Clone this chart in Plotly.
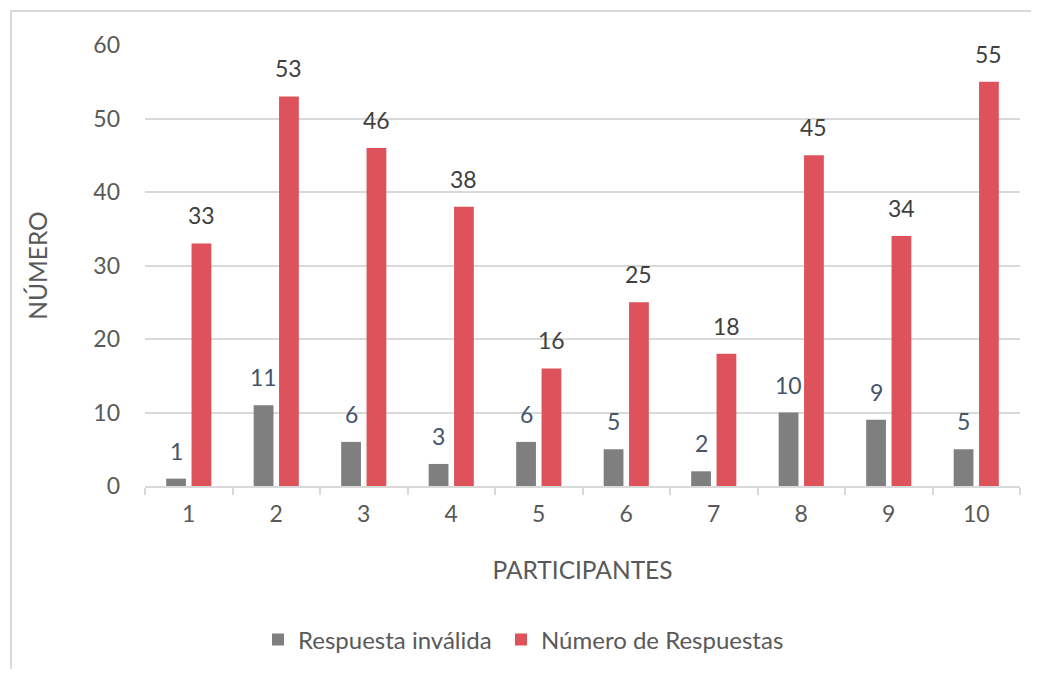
import plotly.graph_objects as go

participantes = ["1", "2", "3", "4", "5", "6", "7", "8", "9", "10"]
invalidas = [1, 11, 6, 3, 6, 5, 2, 10, 9, 5]
respuestas = [33, 53, 46, 38, 16, 25, 18, 45, 34, 55]
y_ticks = [0, 10, 20, 30, 40, 50, 60]

FONT = "Lato"
GRAY = "#7F7F7F"
RED = "#DE535B"
TXT = "#595959"

OFF = 8  # page body margin
W, H = 1039 - 2 * OFF, 677 - 2 * OFF
L, T = 145 - OFF, 45 - OFF
R = W - (1020 - OFF)
B = H - (486 - OFF)
pw, ph = W - L - R, H - T - B

def px_x(page_x):
    return (page_x - OFF - L) / pw

def px_y(page_y):
    return ((486 - OFF) - (page_y - OFF)) / ph

fig = go.Figure()
fig.add_trace(go.Bar(x=participantes, y=invalidas, name="Respuesta inválida",
                     marker=dict(color=GRAY, line=dict(width=0)), legend="legend"))
fig.add_trace(go.Bar(x=participantes, y=respuestas, name="Número de Respuestas",
                     marker=dict(color=RED, line=dict(width=0)), legend="legend2"))

bargap, bargroupgap = 0.42, 0.22
slot_px = pw / len(participantes) * (1 - bargap) / 2
ann = []
for i, v in enumerate(invalidas):
    ann.append(dict(x=i, y=v, text=str(v), showarrow=False, xref="x", yref="y",
                    yanchor="bottom", yshift=12, xshift=-slot_px / 2,
                    font=dict(family=FONT, size=23, color="#44546A")))
for i, v in enumerate(respuestas):
    ann.append(dict(x=i, y=v, text=str(v), showarrow=False, xref="x", yref="y",
                    yanchor="bottom", yshift=12, xshift=slot_px / 2,
                    font=dict(family=FONT, size=23, color="#404040")))

frame = dict(type="rect", xref="paper", yref="paper",
             x0=px_x(11), x1=px_x(1060),
             y0=px_y(700), y1=px_y(11),
             line=dict(color="#D9D9D9", width=2), fillcolor="rgba(0,0,0,0)", layer="below")

leg_common = dict(orientation="h", xanchor="left", y=px_y(640), yanchor="middle",
                  font=dict(family=FONT, size=24, color=TXT), itemwidth=30,
                  bgcolor="rgba(0,0,0,0)")

fig.update_layout(
    width=W, height=H,
    margin=dict(l=L, r=R, t=T, b=B, autoexpand=False),
    paper_bgcolor="white", plot_bgcolor="white",
    barmode="group", bargap=bargap, bargroupgap=bargroupgap,
    font=dict(family=FONT, size=23, color=TXT),
    annotations=ann,
    shapes=[frame],
    showlegend=True,
    legend=dict(x=px_x(258), **leg_common),
    legend2=dict(x=px_x(501), **leg_common),
    xaxis=dict(
        type="category", range=[-0.5, len(participantes) - 0.5],
        title=dict(text="PARTICIPANTES", font=dict(family=FONT, size=24.5, color=TXT), standoff=36),
        showline=True, linecolor="#D9D9D9", linewidth=1.5,
        ticks="outside", tickson="boundaries", ticklen=7, tickcolor="#D9D9D9", tickwidth=1.5,
        tickfont=dict(family=FONT, size=23, color=TXT),
        ticklabelstandoff=7,
        showgrid=False,
    ),
    yaxis=dict(
        title=dict(text="NÚMERO", font=dict(family=FONT, size=24.5, color=TXT), standoff=38),
        range=[0, 60], tickvals=y_ticks,
        showgrid=True, gridcolor="#D9D9D9", gridwidth=1.5,
        zeroline=False, showline=False,
        tickfont=dict(family=FONT, size=23, color=TXT),
        ticklabelstandoff=24,
    ),
)

fig.write_html("out.html")
